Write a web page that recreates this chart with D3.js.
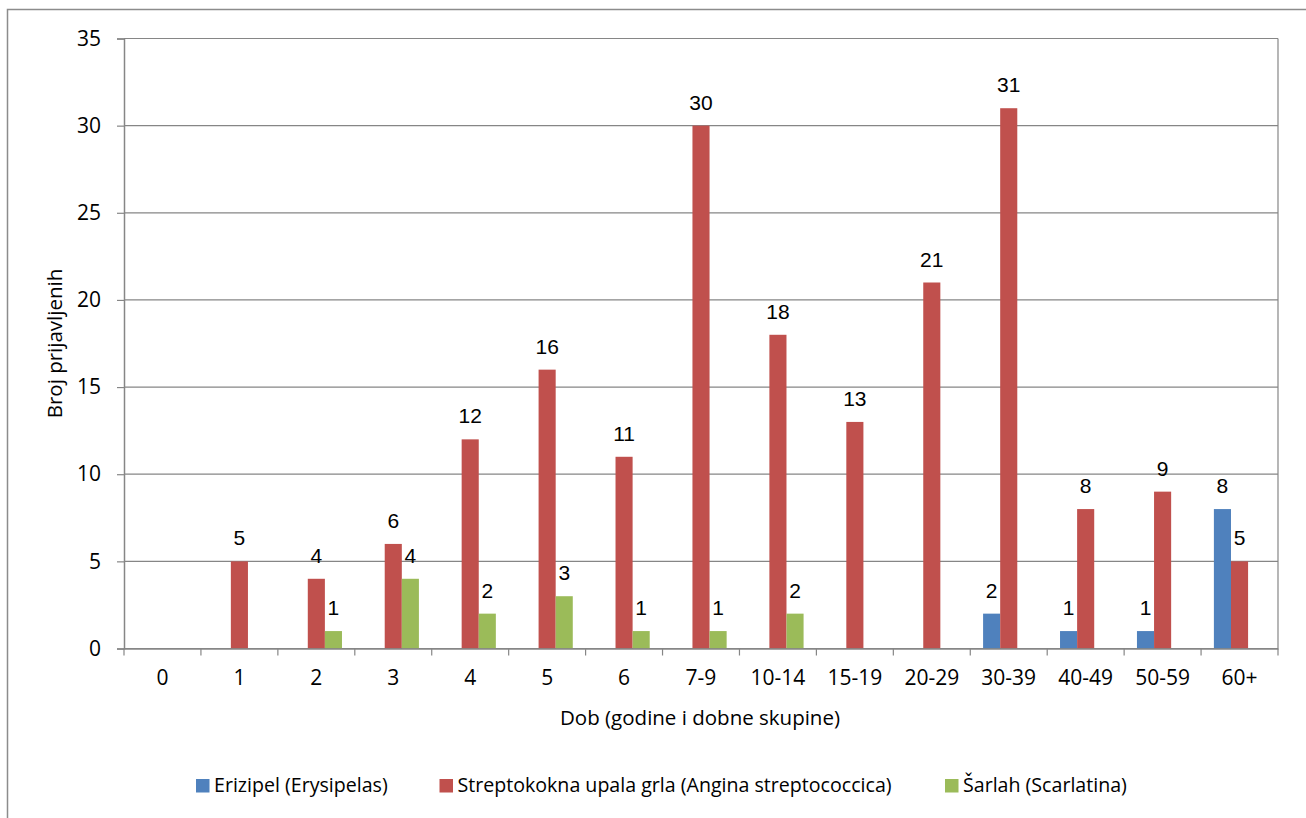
<!DOCTYPE html>
<html>
<head>
<meta charset="utf-8">
<script src="https://cdn.jsdelivr.net/npm/d3@7"></script>
<style>
  html, body { margin: 0; padding: 0; background: #fff; }
  svg { display: block; }
</style>
</head>
<body>
<svg id="chart" width="1306" height="818"></svg>
<script>
const categories = ["0","1","2","3","4","5","6","7-9","10-14","15-19","20-29","30-39","40-49","50-59","60+"];
const seriesNames = ["Erizipel (Erysipelas)", "Streptokokna upala grla (Angina streptococcica)", "Šarlah (Scarlatina)"];
const erizipel = [null,null,null,null,null,null,null,null,null,null,null,2,1,1,8];
const angina   = [null,5,4,6,12,16,11,30,18,13,21,31,8,9,5];
const sarlah   = [null,null,1,4,2,3,1,1,2,null,null,null,null,null,null];
const seriesValues = [erizipel, angina, sarlah];
const colors = ["#4F81BD", "#C0504D", "#9BBB59"];
const yTicks = [0,5,10,15,20,25,30,35];
const xTitle = "Dob (godine i dobne skupine)";
const yTitle = "Broj prijavljenih";

const svg = d3.select("#chart");
const plot = {left: 124, right: 1278, top: 38.5, bottom: 648.5};
const axisFont = "'Open Sans', 'Noto Sans', sans-serif";
const labelFont = "'Liberation Sans', Arial, sans-serif";
const gridColor = "#868686";

// outer chart border (right/bottom fall off the canvas)
svg.append("rect").attr("x", 7.5).attr("y", 9.5).attr("width", 1310).attr("height", 820)
  .attr("fill", "#fff").attr("stroke", "#8c8c8c").attr("stroke-width", 1.5);

const x0 = d3.scaleBand().domain(categories).range([plot.left, plot.right]).paddingInner(0).paddingOuter(0);
const x1 = d3.scaleBand().domain(d3.range(seriesNames.length)).range([0, x0.bandwidth()]).paddingInner(0).paddingOuter(0.75);
const y = d3.scaleLinear().domain([0, 35]).range([plot.bottom, plot.top]);

// gridlines
svg.append("g").selectAll("line").data(yTicks).join("line")
  .attr("x1", plot.left).attr("x2", plot.right)
  .attr("y1", d => y(d)).attr("y2", d => y(d))
  .attr("stroke", gridColor).attr("stroke-width", 1.2);

// plot area right border
svg.append("line").attr("x1", plot.right).attr("x2", plot.right).attr("y1", plot.top).attr("y2", plot.bottom)
  .attr("stroke", gridColor).attr("stroke-width", 1.2);

// bars
const flat = [];
seriesValues.forEach((arr, si) => arr.forEach((v, ci) => { if (v != null) flat.push({si, cat: categories[ci], v}); }));

svg.append("g").selectAll("rect").data(flat).join("rect")
  .attr("x", d => x0(d.cat) + x1(d.si))
  .attr("width", x1.bandwidth())
  .attr("y", d => y(d.v))
  .attr("height", d => y(0) - y(d.v))
  .attr("fill", d => colors[d.si]);

// data labels
svg.append("g").selectAll("text").data(flat).join("text")
  .attr("x", d => x0(d.cat) + x1(d.si) + x1.bandwidth() / 2)
  .attr("y", d => y(d.v) - 16)
  .attr("text-anchor", "middle")
  .attr("font-family", labelFont).attr("font-size", 21).attr("fill", "#000")
  .text(d => d.v);

// y axis
const yAxis = d3.axisLeft(y).tickValues(yTicks).tickSize(7).tickPadding(16);
const gy = svg.append("g").attr("transform", `translate(${plot.left},0)`).call(yAxis);
gy.select(".domain").attr("stroke", gridColor).attr("stroke-width", 1.5);
gy.selectAll(".tick line").attr("stroke", gridColor).attr("stroke-width", 1.2);
gy.selectAll(".tick text").attr("font-family", axisFont).attr("font-size", 21).attr("fill", "#000");

// x axis
const xAxis = d3.axisBottom(x0).tickSize(0).tickPadding(22);
const gx = svg.append("g").attr("transform", `translate(0,${plot.bottom})`).call(xAxis);
gx.select(".domain").attr("stroke", gridColor).attr("stroke-width", 1.5);
gx.selectAll(".tick text").attr("font-family", axisFont).attr("font-size", 21).attr("fill", "#000");
// tick marks between categories
const bounds = categories.map(c => x0(c)).concat([plot.right]);
svg.append("g").selectAll("line").data(bounds).join("line")
  .attr("x1", d => d).attr("x2", d => d)
  .attr("y1", plot.bottom).attr("y2", plot.bottom + 7)
  .attr("stroke", gridColor).attr("stroke-width", 1.2);

// axis titles
svg.append("text").attr("x", (plot.left + plot.right) / 2 - 1).attr("y", 725)
  .attr("text-anchor", "middle").attr("font-family", axisFont).attr("font-size", 20.5)
  .text(xTitle);
svg.append("text").attr("transform", `translate(62,${(plot.top + plot.bottom) / 2}) rotate(-90)`)
  .attr("text-anchor", "middle").attr("font-family", axisFont).attr("font-size", 20.5)
  .text(yTitle);

// legend
const legendX = [196, 439.5, 945];
const lg = svg.append("g").selectAll("g").data(seriesNames).join("g")
  .attr("transform", (d, i) => `translate(${legendX[i]},779)`);
lg.append("rect").attr("width", 13.5).attr("height", 13.5).attr("fill", (d, i) => colors[i]);
lg.append("text").attr("x", 18).attr("y", 13).attr("font-family", axisFont).attr("font-size", 19.6)
  .text(d => d);
</script>
</body>
</html>
